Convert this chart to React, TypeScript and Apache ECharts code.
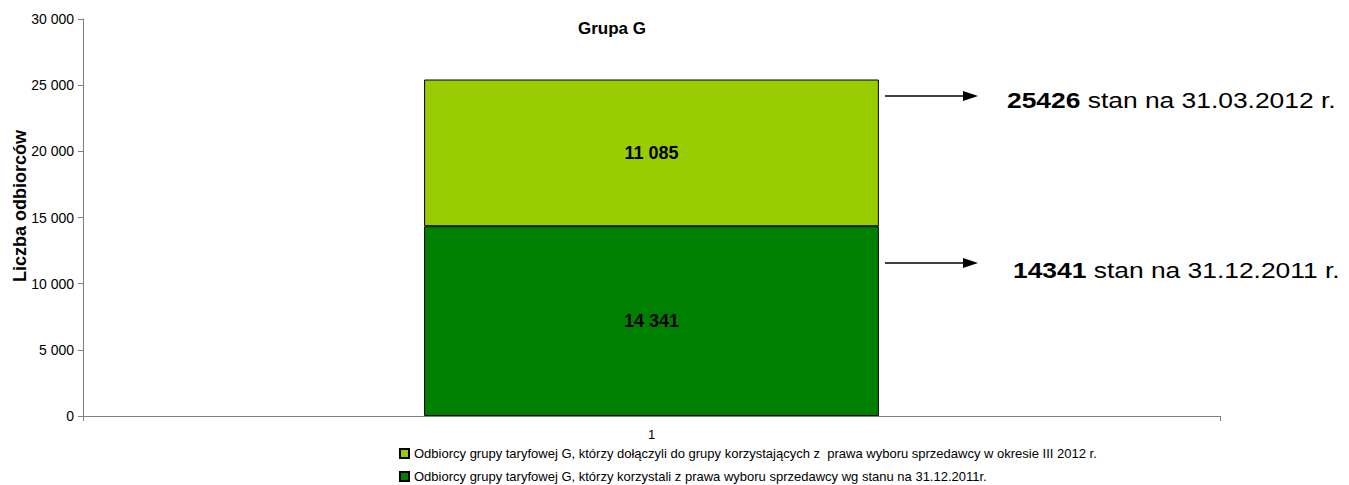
import React, { useEffect, useRef } from "react";
import * as echarts from "echarts";

const categories = ["1"];
const seriesNames = [
  "Odbiorcy grupy taryfowej G, którzy korzystali z prawa wyboru sprzedawcy wg stanu na 31.12.2011r.",
  "Odbiorcy grupy taryfowej G, którzy dołączyli do grupy korzystających z  prawa wyboru sprzedawcy w okresie III 2012 r.",
];
const baseValues = [14341];
const addedValues = [11085];
const totals = [14341, 25426];
const totalDates = ["31.12.2011", "31.03.2012"];
const yTicks = [0, 5000, 10000, 15000, 20000, 25000, 30000];
const yAxisTitle = "Liczba odbiorców";
const chartTitle = "Grupa G";

const fmt = (v: number) => String(v).replace(/\B(?=(\d{3})+(?!\d))/g, " ");
const FONT = "Liberation Sans, Arial, sans-serif";

export default function App() {
  const ref = useRef<HTMLDivElement>(null);
  useEffect(() => {
    if (!ref.current) return;
    const chart = echarts.init(ref.current, null, { renderer: "svg" });
    const labelStyle = {
      show: true,
      position: "inside",
      fontWeight: "bold",
      fontSize: 18,
      color: "#000",
      fontFamily: FONT,
      formatter: (p: any) => fmt(p.value),
    };
    const legendBase = {
      orient: "vertical",
      left: 399,
      padding: 0,
      itemWidth: 9,
      itemHeight: 9,
      icon: "rect",
      textStyle: { fontSize: 13, color: "#000", fontFamily: FONT },
    };
    const bigText = (x: number, y: number, i: number) => ({
      type: "text",
      x,
      y,
      scaleX: 1.2,
      style: {
        text: `{b|${totals[i]}} stan na ${totalDates[i]} r.`,
        fontSize: 22,
        fontFamily: FONT,
        fill: "#000",
        verticalAlign: "middle",
        rich: { b: { fontSize: 22, fontWeight: "bold", fontFamily: FONT } },
      },
    });
    chart.setOption({
      animation: false,
      textStyle: { fontFamily: FONT },
      title: {
        text: chartTitle,
        left: 612,
        top: 20,
        padding: 0,
        textAlign: "center",
        textStyle: { fontSize: 17, fontWeight: "bold", color: "#000", fontFamily: FONT },
      },
      grid: { left: 83, right: 129, top: 19, bottom: 69, outerBoundsMode: "none", containLabel: false },
      xAxis: {
        type: "category",
        data: categories,
        axisLine: { lineStyle: { color: "#808080" } },
        axisTick: { show: true, length: 5, lineStyle: { color: "#808080" } },
        axisLabel: { color: "#000", fontSize: 13, margin: 12 },
      },
      yAxis: {
        type: "value",
        min: yTicks[0],
        max: yTicks[yTicks.length - 1],
        interval: yTicks[1] - yTicks[0],
        axisLine: { show: true, lineStyle: { color: "#808080" } },
        axisTick: { show: true, length: 5, lineStyle: { color: "#808080" } },
        splitLine: { show: false },
        axisLabel: { color: "#000", fontSize: 14, margin: 9, formatter: (v: number) => fmt(v) },
      },
      legend: [
        { ...legendBase, top: 447, data: [seriesNames[1]] },
        { ...legendBase, top: 470, data: [seriesNames[0]] },
      ],
      series: [
        {
          name: seriesNames[0],
          type: "bar",
          stack: "a",
          data: baseValues,
          barWidth: "40%",
          itemStyle: { color: "#008000", borderColor: "#000", borderWidth: 1 },
          label: labelStyle,
        },
        {
          name: seriesNames[1],
          type: "bar",
          stack: "a",
          data: addedValues,
          barWidth: "40%",
          itemStyle: { color: "#99CC00", borderColor: "#000", borderWidth: 1 },
          label: labelStyle,
        },
      ],
      graphic: [
        {
          type: "text",
          x: 20,
          y: 206,
          rotation: Math.PI / 2,
          style: {
            text: yAxisTitle,
            fontSize: 18,
            fontWeight: "bold",
            fontFamily: FONT,
            fill: "#000",
            align: "center",
            verticalAlign: "middle",
          },
        },
        {
          type: "line",
          shape: { x1: 885, y1: 96, x2: 965, y2: 96 },
          style: { stroke: "#000", lineWidth: 1.5 },
        },
        {
          type: "polygon",
          shape: { points: [[963, 91], [978, 96], [963, 101]] },
          style: { fill: "#000" },
        },
        {
          type: "line",
          shape: { x1: 885, y1: 263, x2: 965, y2: 263 },
          style: { stroke: "#000", lineWidth: 1.5 },
        },
        {
          type: "polygon",
          shape: { points: [[963, 258], [978, 263], [963, 268]] },
          style: { fill: "#000" },
        },
        bigText(1007, 100, 1),
        bigText(1013, 270, 0),
      ],
    });
    return () => chart.dispose();
  }, []);
  return (
    <div
      ref={ref}
      style={{ position: "absolute", left: 0, top: 0, width: 1349, height: 485 }}
    />
  );
}
